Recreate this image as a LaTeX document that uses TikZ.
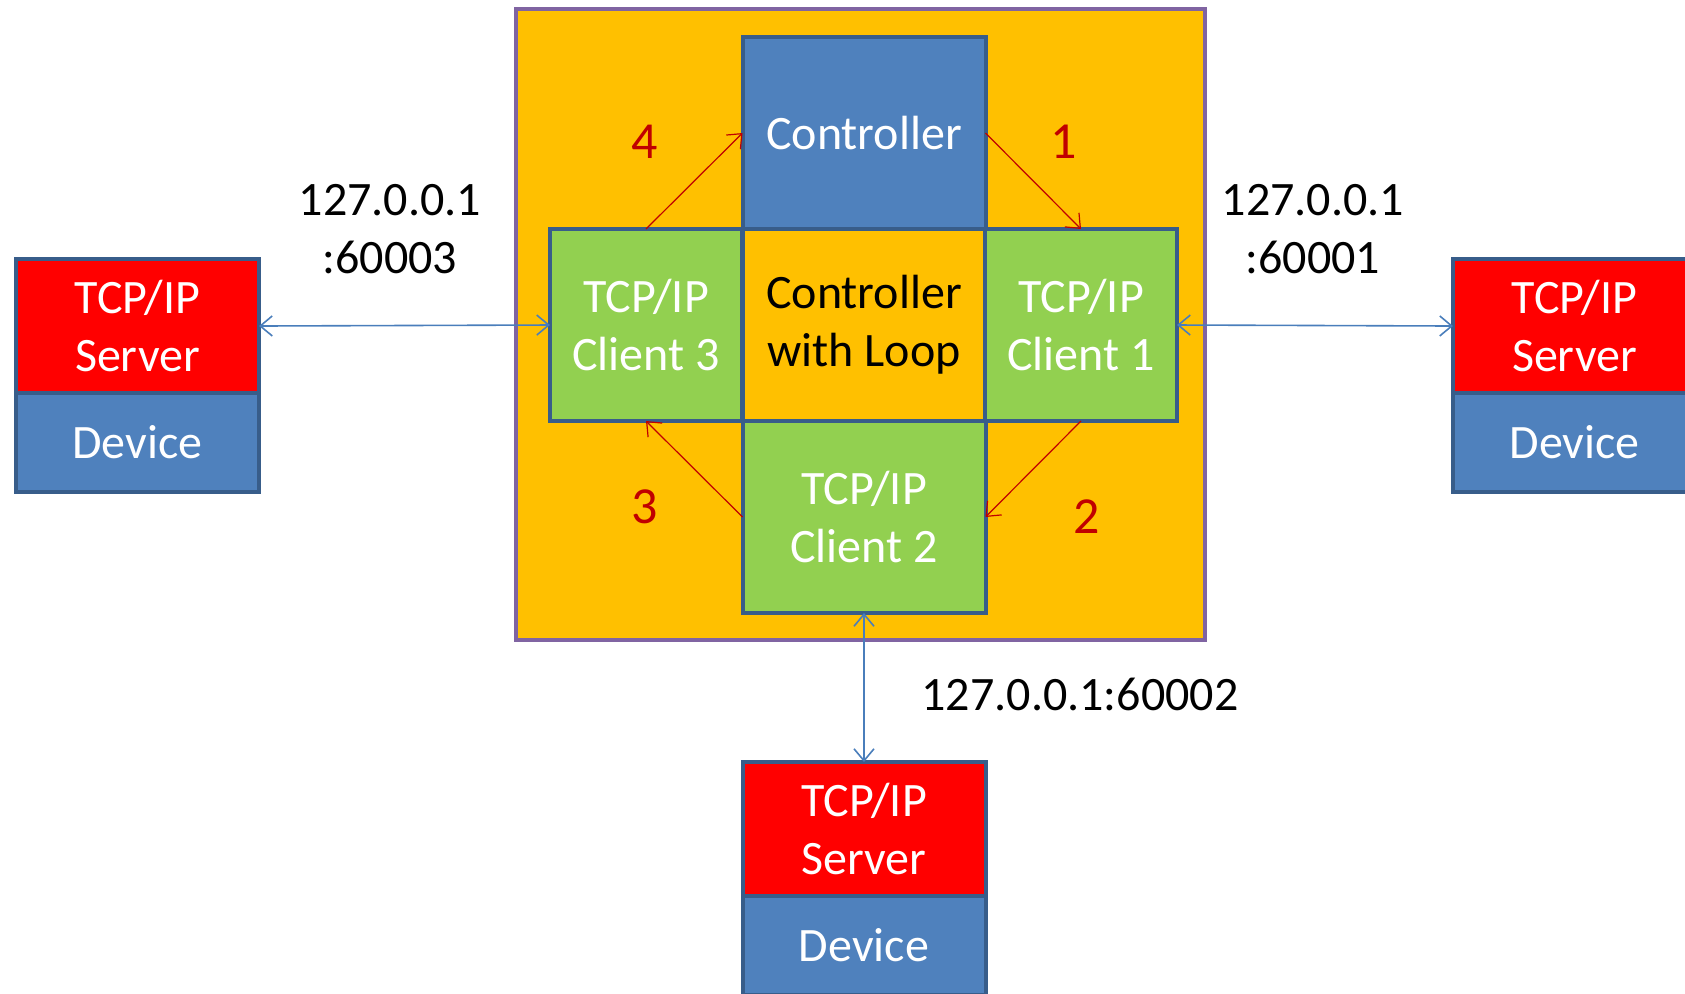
\documentclass[tikz,border=0pt]{standalone}
\usepackage{fontspec}
\setmainfont{Carlito}
\usetikzlibrary{positioning,arrows.meta}

\definecolor{boxblue}{HTML}{4F81BD}
\definecolor{boxline}{HTML}{385D8A}
\definecolor{boxgreen}{HTML}{92D050}
\definecolor{boxorange}{HTML}{FFC000}
\definecolor{framepurple}{HTML}{8064A2}
\definecolor{looparrow}{HTML}{C00000}
\definecolor{linkblue}{HTML}{4A7EBB}

\tikzset{
  cell/.style={draw=boxline, line width=2pt, minimum width=121.5pt, minimum height=96pt,
    inner sep=0pt, outer sep=0pt, align=center, font=\fontsize{24}{29}\selectfont},
  client/.style={cell, fill=boxgreen, text=white},
  side client/.style={client, minimum width=96pt},
  server/.style={cell, fill=red, text=white, minimum height=67pt},
  device/.style={cell, fill=boxblue, text=white, minimum height=49.5pt},
  loop arrow/.style={-{Straight Barb[length=6pt,width=10pt]}, draw=looparrow, line width=0.6pt},
  link/.style={{Straight Barb[length=6pt,width=10pt]}-{Straight Barb[length=6pt,width=10pt]}, draw=linkblue, line width=0.8pt},
  addr/.style={align=center, font=\fontsize{24}{29}\selectfont},
  num/.style={text=looparrow, font=\fontsize{26}{31}\selectfont}
}

\begin{document}
\begin{tikzpicture}[x=0.5pt, y=-0.5pt]
\useasboundingbox (0,0) rectangle (1685,993);

\fill[boxorange] (516,9) rectangle (1205,640);
\draw[framepurple, line width=2pt] (516,9) rectangle (1205,640);

\node[cell, fill=boxblue, text=white] (ctrl) at (864,133) {Controller};
\node[cell, fill=boxorange] (loop) at (864,325) {Controller\\with Loop};
\node[side client] (cl3) at (646,325) {TCP/IP\\Client 3};
\node[side client] (cl1) at (1081,325) {TCP/IP\\Client 1};
\node[client] (cl2) at (864,517) {TCP/IP\\Client 2};

\node[server] (srv3) at (137.5,326) {TCP/IP\\Server};
\node[device, below=0pt of srv3] (dev3) {Device};
\node[server] (srv1) at (1574.5,326) {TCP/IP\\Server};
\node[device, below=0pt of srv1] (dev1) {Device};
\node[server] (srv2) at (864,829) {TCP/IP\\Server};
\node[device, below=0pt of srv2] (dev2) {Device};

\draw[loop arrow] (ctrl.east) -- (cl1.north);
\draw[loop arrow] (cl1.south) -- (cl2.east);
\draw[loop arrow] (cl2.west) -- (cl3.south);
\draw[loop arrow] (cl3.north) -- (ctrl.west);

\node[num] (n1) at (1064,142) {1};
\node[num] (n2) at (1087,517) {2};
\node[num] (n3) at (645,507) {3};
\node[num] (n4) at (645,142) {4};

\draw[link] (srv3.east) -- (cl3.west);
\draw[link] (cl1.east) -- (srv1.west);
\draw[link] (cl2.south) -- (srv2.north);

\node[addr] (a3) at (390,229) {127.0.0.1\\:60003};
\node[addr] (a1) at (1313,229) {127.0.0.1\\:60001};
\node[addr] (a2) at (1080,694) {127.0.0.1:60002};
\end{tikzpicture}
\end{document}
